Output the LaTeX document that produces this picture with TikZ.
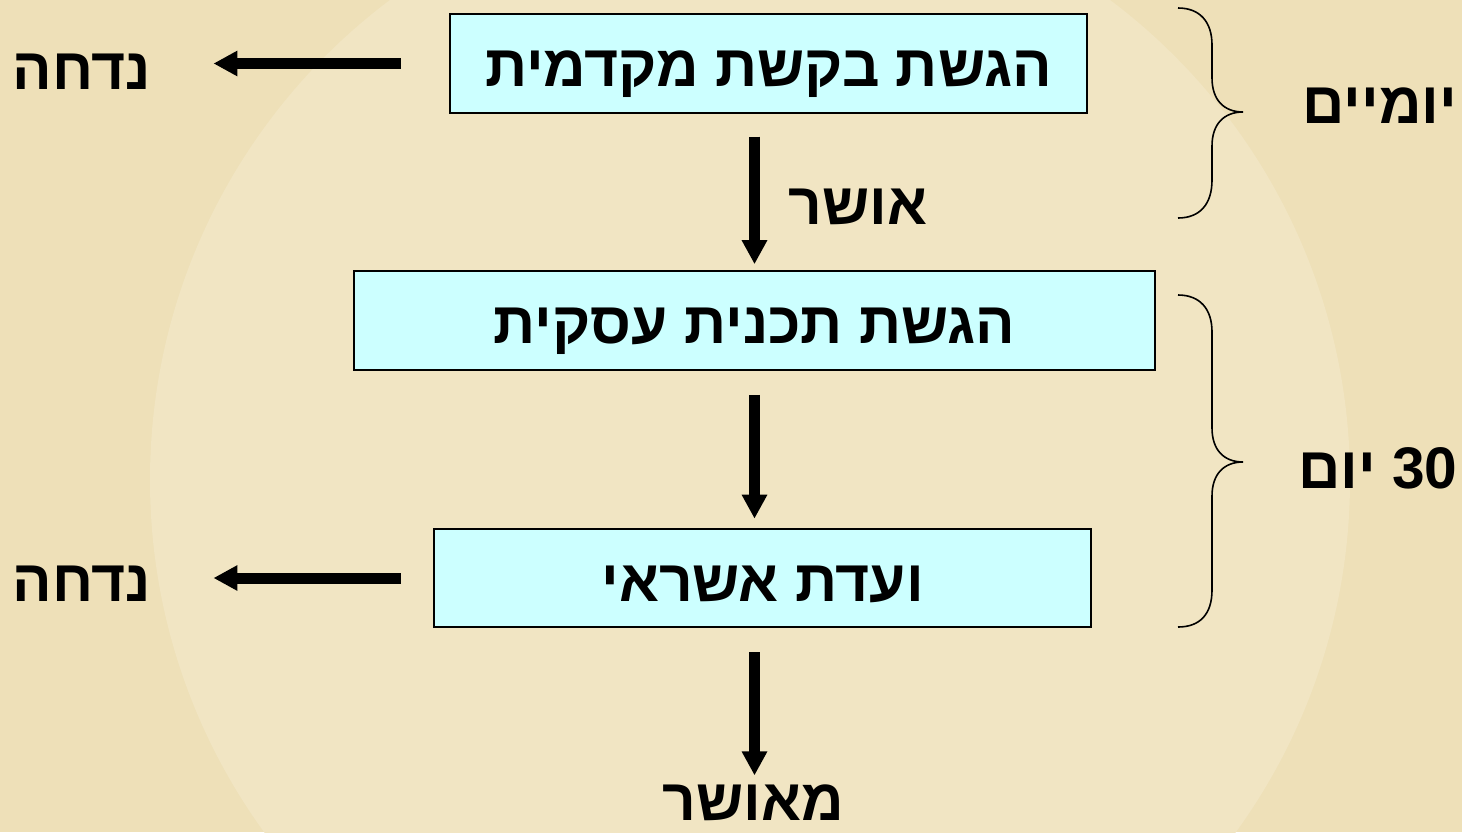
\documentclass[tikz,border=0pt]{standalone}
\usepackage{fontspec}
\usepackage{xcolor}
\usetikzlibrary{arrows.meta}
\setmainfont{Liberation Sans}
\newfontfamily\hebfont[Script=Hebrew]{Liberation Sans}
\TeXXeTstate=1
\definecolor{bgbeige}{RGB}{238,224,184}
\definecolor{globebeige}{RGB}{241,229,195}
\definecolor{boxcyan}{RGB}{204,255,255}

\begin{document}
\begin{tikzpicture}[
    x=0.75pt, y=-0.75pt,
    block/.style={rectangle, draw, line width=1.5pt, fill=boxcyan, minimum height=74pt, inner sep=0pt,
        text height=44pt, text depth=9pt, font=\hebfont\bfseries\fontsize{44}{48}\selectfont},
    label/.style={inner sep=0pt, font=\hebfont\bfseries\fontsize{44}{48}\selectfont},
    arrow/.style={-{Triangle[width=18pt,length=18pt]}, line width=8.25pt},
    brace/.style={line width=1.2pt}
]
    \useasboundingbox (0,0) rectangle (1462,832);
    % background
    \begin{scope}
        \clip (0,0) rectangle (1462,832);
        \fill[bgbeige] (0,0) rectangle (1462,832);
        \fill[globebeige] (750,480) circle (600);
    \end{scope}

    \node[label] (reject1) at (82,72) {\beginR נדחה\endR};
    \node[label] (reject2) at (82,584) {\beginR נדחה\endR};
    \node[block, minimum width=478pt] (request) at (768.5,63.5) {\beginR הגשת בקשת מקדמית\endR};
    \node[block, minimum width=601pt] (plan) at (754.5,320.5) {\beginR הגשת תכנית עסקית\endR};
    \node[block, minimum width=493pt] (committee) at (762.5,578) {\beginR ועדת אשראי\endR};

    \node[label] (ok) at (858,207) {\beginR אושר\endR};
    \node[label] (approved) at (753,803) {\beginR מאושר\endR};
    \node[label] (twodays) at (1380,106) {\beginR יומיים\endR};
    \node[label] (thirty) at (1378,468) {\beginR\beginL 30\endL{} יום\endR};

    \draw[arrow, shorten <=17pt, shorten >=4.5pt] (request.south -| plan.north) -- (plan.north);
    \draw[arrow, shorten <=18pt, shorten >=6.75pt] (plan.south) -- (committee.north -| plan.south);
    \draw[arrow, shorten <=18pt, shorten >=7pt] (committee.south -| plan.south) -- (approved.north -| plan.south);
    \draw[arrow, shorten <=36pt, shorten >=46.5pt] (request.west) -- (reject1.east |- request.west);
    \draw[arrow, shorten <=24pt, shorten >=46.5pt] (committee.west) -- (reject2.east |- committee.west);

    % braces
    \draw[brace] (1178,8) .. controls (1200,8) and (1212,22) .. (1212,45) -- (1212,78)
        .. controls (1212,100) and (1224,112) .. (1243,112)
        .. controls (1224,112) and (1212,124) .. (1212,146) -- (1212,180)
        .. controls (1212,204) and (1200,218) .. (1178,218);
    \draw[brace] (1178,295) .. controls (1200,295) and (1212,309) .. (1212,332) -- (1212,428)
        .. controls (1212,450) and (1224,462) .. (1243,462)
        .. controls (1224,462) and (1212,474) .. (1212,496) -- (1212,590)
        .. controls (1212,614) and (1200,627) .. (1178,627);
\end{tikzpicture}
\end{document}
